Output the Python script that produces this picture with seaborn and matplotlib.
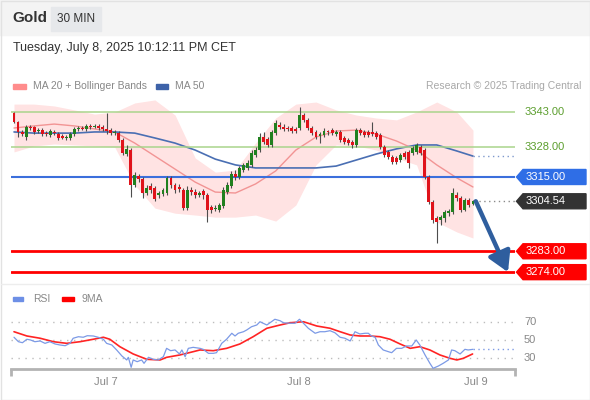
import numpy as np
import matplotlib
matplotlib.use('Agg')
import matplotlib.pyplot as plt
from matplotlib.patches import Rectangle, Polygon
from matplotlib.transforms import blended_transform_factory
import seaborn as sns

# ---- data (30 min candles, Gold) ----
opens = [3342.6, 3338.7, 3334.4, 3332.2, 3336.5, 3336.5, 3334.8, 3335.2, 3333.9, 3333.1,
         3334.4, 3333.5, 3332.7, 3331.8, 3331.8, 3333.5, 3335.7, 3336.1, 3335.7, 3337.0,
         3336.5, 3337.0, 3336.5, 3335.7, 3335.2, 3333.9, 3333.9, 3330.9, 3324.9, 3326.6,
         3311.5, 3315.4, 3314.1, 3308.1, 3311.1, 3310.2, 3307.2, 3307.7, 3308.1, 3314.6,
         3311.5, 3310.7, 3309.4, 3301.6, 3309.4, 3308.5, 3307.2, 3309.0, 3307.2, 3302.0,
         3301.2, 3300.7, 3302.4, 3308.5, 3311.1, 3316.3, 3315.0, 3318.0, 3318.9, 3320.2,
         3324.5, 3326.6, 3332.2, 3331.4, 3328.8, 3333.9, 3337.4, 3336.5, 3336.1, 3336.1,
         3335.7, 3336.1, 3341.7, 3339.6, 3336.1, 3334.4, 3332.7, 3333.1, 3334.4, 3335.2,
         3333.5, 3334.4, 3331.8, 3330.9, 3330.1, 3328.8, 3335.2, 3334.4, 3334.4, 3334.4,
         3333.9, 3333.1, 3327.9, 3325.8, 3323.6, 3323.2, 3322.3, 3325.3, 3325.8, 3325.3,
         3325.8, 3327.9, 3326.6, 3315.0, 3304.2, 3297.3, 3296.4, 3297.3, 3299.4, 3299.9,
         3307.2, 3305.9, 3300.7, 3305.1, 3303.3]
closes = [3338.7, 3334.4, 3333.5, 3336.5, 3336.1, 3334.4, 3335.2, 3333.5, 3333.5, 3334.8,
          3333.9, 3331.8, 3331.8, 3332.2, 3333.5, 3335.7, 3336.1, 3335.7, 3337.0, 3336.5,
          3337.0, 3336.1, 3335.7, 3334.8, 3333.9, 3334.4, 3330.9, 3325.3, 3327.1, 3311.5,
          3315.8, 3314.1, 3308.1, 3310.2, 3309.4, 3305.5, 3308.1, 3309.4, 3314.6, 3311.5,
          3309.4, 3309.8, 3301.6, 3309.4, 3308.5, 3307.2, 3308.1, 3307.2, 3300.7, 3300.7,
          3301.6, 3302.9, 3309.4, 3311.5, 3316.3, 3315.0, 3318.9, 3320.2, 3321.0, 3325.3,
          3326.6, 3332.2, 3330.1, 3328.8, 3334.4, 3338.3, 3336.5, 3335.7, 3335.7, 3334.8,
          3334.8, 3341.7, 3339.6, 3336.1, 3333.9, 3332.2, 3333.5, 3334.8, 3334.2, 3333.9,
          3334.4, 3330.9, 3330.1, 3329.6, 3328.8, 3335.2, 3333.9, 3333.1, 3333.1, 3333.5,
          3332.2, 3327.9, 3324.5, 3323.6, 3321.5, 3321.5, 3324.5, 3323.6, 3321.0, 3327.5,
          3328.8, 3325.3, 3315.0, 3304.2, 3296.4, 3295.6, 3297.7, 3299.9, 3300.3, 3308.1,
          3305.9, 3300.7, 3305.1, 3302.9, 3304.54]
highs = [3343.0, 3339.1, 3335.2, 3337.4, 3337.4, 3337.0, 3336.1, 3336.1, 3334.8, 3335.7,
         3335.2, 3334.4, 3333.5, 3333.1, 3334.4, 3336.5, 3337.0, 3337.0, 3337.8, 3337.8,
         3337.8, 3337.8, 3337.4, 3342.6, 3336.1, 3335.2, 3334.8, 3331.8, 3328.8, 3327.5,
         3317.1, 3316.3, 3315.0, 3311.5, 3312.4, 3311.1, 3309.0, 3310.2, 3315.4, 3315.4,
         3312.4, 3312.0, 3310.2, 3311.1, 3310.7, 3309.8, 3309.0, 3309.8, 3308.1, 3302.9,
         3302.9, 3303.8, 3310.7, 3312.8, 3317.6, 3318.0, 3319.7, 3321.0, 3322.3, 3326.6,
         3327.9, 3333.9, 3334.4, 3332.2, 3335.2, 3339.6, 3338.7, 3337.8, 3337.0, 3337.0,
         3336.5, 3345.2, 3342.6, 3340.4, 3337.0, 3335.2, 3334.4, 3336.1, 3335.2, 3336.1,
         3335.2, 3335.2, 3332.7, 3331.8, 3330.9, 3336.1, 3336.1, 3335.2, 3335.2, 3338.7,
         3334.8, 3333.9, 3328.8, 3326.6, 3324.5, 3324.0, 3325.3, 3326.2, 3326.6, 3328.4,
         3329.6, 3328.8, 3327.5, 3315.8, 3305.1, 3298.2, 3298.6, 3300.7, 3301.2, 3310.2,
         3308.5, 3306.8, 3305.9, 3305.9, 3305.1]
lows = [3338.3, 3332.2, 3332.7, 3330.9, 3335.2, 3333.5, 3333.9, 3332.7, 3332.7, 3332.2,
        3333.1, 3330.9, 3331.3, 3330.9, 3330.9, 3332.7, 3334.8, 3335.2, 3334.8, 3335.7,
        3336.1, 3335.2, 3334.8, 3333.5, 3333.1, 3333.1, 3330.1, 3324.5, 3324.0, 3306.4,
        3310.7, 3312.9, 3305.9, 3307.2, 3308.1, 3304.6, 3305.9, 3306.8, 3307.2, 3310.2,
        3308.1, 3308.5, 3300.7, 3300.7, 3307.2, 3305.9, 3306.4, 3305.5, 3295.6, 3299.4,
        3300.3, 3299.9, 3301.6, 3307.7, 3310.2, 3313.7, 3314.1, 3317.1, 3318.0, 3319.3,
        3323.6, 3325.8, 3329.2, 3327.9, 3327.9, 3333.1, 3335.7, 3334.8, 3334.8, 3333.9,
        3333.9, 3335.2, 3338.7, 3335.2, 3333.1, 3331.4, 3329.6, 3332.2, 3333.1, 3333.1,
        3332.7, 3330.1, 3329.2, 3328.8, 3327.5, 3327.9, 3333.1, 3332.2, 3332.2, 3332.7,
        3331.4, 3327.1, 3323.6, 3322.7, 3320.6, 3320.6, 3321.5, 3322.7, 3318.9, 3324.5,
        3324.9, 3324.5, 3314.1, 3303.3, 3295.2, 3286.5, 3294.3, 3295.6, 3298.2, 3299.0,
        3304.6, 3299.9, 3300.3, 3302.0, 3302.9]

# moving averages / Bollinger bands, read every 5 candles
band_idx = [0, 5, 10, 15, 20, 25, 30, 35, 40, 45, 50, 55, 60, 65, 70, 75, 80, 85, 90, 95,
            100, 105, 110, 114]
bb_upper = [3346.4, 3346.4, 3345.6, 3343.9, 3342.1, 3343.0, 3346.9, 3348.2, 3341.7, 3323.2,
            3317.1, 3318.0, 3329.6, 3340.4, 3346.4, 3347.3, 3343.9, 3341.7, 3340.4, 3339.6,
            3343.0, 3347.3, 3343.0, 3335.2]
bb_mid = [3336.1, 3337.0, 3337.8, 3337.0, 3335.7, 3334.4, 3329.6, 3324.0, 3318.4, 3312.8,
          3308.5, 3308.1, 3312.0, 3317.6, 3326.6, 3332.2, 3334.8, 3335.2, 3333.5, 3330.5,
          3326.6, 3320.2, 3314.6, 3310.7]
bb_lower = [3325.8, 3328.4, 3329.2, 3328.8, 3328.4, 3327.9, 3311.5, 3301.6, 3299.4, 3298.6,
            3297.7, 3297.7, 3298.6, 3296.0, 3302.9, 3320.2, 3328.8, 3328.4, 3326.6, 3323.2,
            3320.2, 3295.6, 3291.3, 3288.7]
ma50 = [3334.4, 3333.9, 3333.9, 3333.9, 3334.4, 3334.4, 3333.9, 3331.8, 3329.6, 3326.6,
        3322.7, 3320.2, 3318.9, 3318.9, 3318.9, 3318.9, 3319.7, 3322.3, 3324.9, 3327.1,
        3328.8, 3328.8, 3326.2, 3324.0]

# RSI and its 9 period MA
rsi_idx = [0, 1.1, 2.1, 3.2, 4.1, 5.2, 6.5, 7.7, 8.9, 10.2, 11.4, 12.7, 13.9, 14.7, 16.0,
           17.2, 18.2, 19.7, 20.9, 22.2, 23.0, 24.3, 25.5, 26.8, 28.0, 28.4, 29.1, 29.6,
           30.6, 31.7, 32.3, 33.4, 34.6, 35.8, 37.1, 37.9, 38.9, 40.0, 41.1, 41.7, 42.5,
           43.3, 44.5, 46.2, 47.0, 48.3, 49.5, 50.3, 51.6, 52.8, 54.1, 54.9, 55.7, 57.0,
           57.8, 59.0, 60.3, 61.1, 61.9, 62.8, 63.6, 64.8, 66.1, 66.9, 68.6, 69.8, 70.9,
           71.9, 73.1, 74.8, 76.0, 77.2, 78.5, 79.7, 81.0, 82.2, 83.5, 84.7, 85.9, 87.2,
           88.0, 88.8, 89.7, 90.5, 91.7, 93.0, 93.8, 95.0, 96.3, 97.5, 98.8, 99.9, 100.8,
           102.1, 103.3, 104.1, 105.4, 106.6, 107.9, 108.7, 109.5, 110.8, 112.0, 112.8, 114.0]
rsi = [52.8, 47.9, 46.8, 50.6, 49.8, 47.9, 48.7, 46.1, 47.9, 45.4, 44.3, 43.5, 46.1, 51.7,
       53.4, 52.8, 54.5, 54.2, 52.8, 50.6, 46.1, 44.3, 38.8, 32.2, 27.8, 30.7, 19.7, 27.8,
       25.9, 27.8, 24.1, 30.7, 28.5, 27.8, 31.4, 40.6, 38.0, 38.8, 34.4, 38.8, 31.4, 40.6,
       41.7, 40.6, 39.5, 35.1, 35.1, 35.8, 46.1, 50.6, 57.2, 54.2, 57.2, 58.9, 60.8, 64.4,
       66.3, 69.9, 68.2, 66.3, 68.8, 72.6, 71.0, 68.8, 68.2, 68.2, 72.6, 68.2, 62.7, 57.2,
       58.9, 58.9, 60.0, 57.8, 52.8, 51.7, 48.7, 58.9, 56.4, 57.2, 57.2, 54.2, 52.8, 44.3,
       38.8, 36.9, 35.8, 40.6, 40.6, 43.2, 43.2, 49.8, 44.3, 33.3, 24.1, 18.6, 21.1, 24.1,
       27.8, 38.8, 38.0, 34.4, 39.5, 38.8, 39.5]
ma9_idx = [0, 3.2, 6.5, 9.8, 13.1, 16.4, 19.7, 22.2, 23.8, 26.3, 29.6, 33.0, 36.3, 37.9,
           41.2, 44.5, 46.2, 49.5, 52.8, 56.1, 59.4, 62.8, 66.1, 68.6, 71.9, 75.2, 78.5,
           81.0, 83.5, 85.9, 88.4, 90.9, 93.4, 95.9, 98.4, 100.8, 103.3, 105.8, 108.3,
           110.0, 111.6, 113.9]
ma9 = [58.9, 54.2, 51.7, 47.9, 46.1, 47.9, 50.6, 52.8, 50.6, 42.4, 34.4, 28.5, 27.8, 30.7,
       33.3, 36.9, 38.8, 38.0, 40.6, 45.4, 53.4, 62.7, 66.3, 68.8, 69.9, 65.2, 62.7, 58.9,
       55.3, 54.2, 54.2, 53.4, 50.6, 45.4, 40.6, 42.4, 38.8, 33.3, 29.6, 27.8, 29.6, 34.4]

# key levels
resist_levels = [3343.0, 3328.0]
pivot_level = 3315.0
support_levels = [3283.0, 3274.0]
date_ticks = [22.85, 70.8, 114.75]
date_labels = ['Jul 7', 'Jul 8', 'Jul 9']
rsi_levels = [70, 50, 30]

# ---- figure ----
sns.set_theme(style='white')
plt.rcParams['font.family'] = ['Liberation Sans', 'DejaVu Sans']

W, H = 590, 400
fig = plt.figure(figsize=(W / 100, H / 100), dpi=100)
fig.patch.set_facecolor('white')


def px_axes(l, t, r, b):
    return fig.add_axes([l / W, 1 - b / H, (r - l) / W, (b - t) / H])


def ftext(x, y, s, **kw):
    kw.setdefault('va', 'center')
    return fig.text(x / W, 1 - y / H, s, **kw)


# header band and frame
fig.patches.append(Rectangle((0, 1 - 35 / H), 1, 35 / H, transform=fig.transFigure,
                             color='#f4f4f4', zorder=0))
fig.patches.append(Rectangle((51 / W, 1 - 31 / H), 50 / W, 24 / H, transform=fig.transFigure,
                             color='#e6e8eb', zorder=0))
fig.patches.append(Rectangle((0.5 / W, 0.5 / H), (W - 1) / W, (H - 1) / H, transform=fig.transFigure,
                             fill=False, edgecolor='#e2e2e2', lw=1, zorder=0))
fig.lines.append(plt.Line2D([1 / W, 589 / W], [1 - 283.5 / H] * 2, transform=fig.transFigure,
                            color='#ededed', lw=1))

ftext(12, 18, 'Gold', fontsize=11, fontweight='bold', color='#333333')
ftext(76, 19, '30 MIN', fontsize=8.5, ha='center', color='#333333')
ftext(13, 48, 'Tuesday, July 8, 2025 10:12:11 PM CET', fontsize=9, color='#333333')
ftext(581, 86, 'Research \u00a9 2025 Trading Central', fontsize=7.5, color='#a8a8a8', ha='right')

# legends
fig.patches.append(Rectangle((13 / W, 1 - 88.5 / H), 13 / W, 4.5 / H, transform=fig.transFigure,
                             color='#ff8c8c'))
ftext(33, 86, 'MA 20 + Bollinger Bands', fontsize=7.5, color='#888888')
fig.patches.append(Rectangle((156 / W, 1 - 88.5 / H), 12 / W, 4.5 / H, transform=fig.transFigure,
                             color='#3d62a8'))
ftext(175, 86, 'MA 50', fontsize=7.5, color='#888888')

fig.patches.append(Rectangle((13 / W, 1 - 301 / H), 10 / W, 4 / H, transform=fig.transFigure,
                             color='#6d8fe6'))
ftext(33, 299, 'RSI', fontsize=7.5, color='#888888')
fig.patches.append(Rectangle((62 / W, 1 - 301 / H), 12 / W, 4 / H, transform=fig.transFigure,
                             color='#ff0000'))
ftext(82, 299, '9MA', fontsize=7.5, color='#888888')

# ---- price panel ----
xmin, xmax = -0.745, 124.44
ax = px_axes(11, 60, 515, 284)
ax.set_xlim(xmin, xmax)
ax.set_ylim(3268.9, 3365.4)
ax.axis('off')

ax.fill_between(band_idx, bb_lower, bb_upper, color='#ffe3e3', lw=0, zorder=1)
sns.lineplot(x=band_idx, y=bb_mid, ax=ax, color='#f29494', lw=1.0, zorder=2)
sns.lineplot(x=band_idx, y=ma50, ax=ax, color='#4a6fb3', lw=1.2, zorder=2)

for lvl in resist_levels:
    ax.axhline(lvl, color='#a9d48c', lw=1.1, zorder=2)
ax.axhline(pivot_level, color='#3b6fdc', lw=1.5, zorder=2)
for lvl in support_levels:
    ax.axhline(lvl, color='#ff0000', lw=2, zorder=2)

o = np.array(opens)
c = np.array(closes)
idx = np.arange(len(c))
ax.vlines(idx, lows, highs, color='#4d4d4d', lw=0.8, zorder=3)
body_lo = np.minimum(o, c)
body_h = np.maximum(np.abs(c - o), 0.45)
ax.bar(idx, body_h, bottom=body_lo, width=0.72, lw=0, zorder=4,
       color=np.where(c >= o, '#21801f', '#e0121a'))

# projections past the last candle
last = idx[-1]
ax.plot([last + 0.3, xmax], [closes[-1]] * 2, ls=(0, (1, 2.5)), color='#8a8a8a', lw=1, zorder=2)
ax.plot([band_idx[-1], xmax], [ma50[-1]] * 2, ls=(0, (1, 2.5)), color='#7d98cc', lw=1, zorder=2)
ax.annotate('', xy=(last + 8.7, support_levels[1]), xytext=(last + 0.7, closes[-1]),
            arrowprops=dict(arrowstyle='-|>,head_length=0.6,head_width=0.35', mutation_scale=20,
                            color='#2f5e9e', lw=3.2, shrinkA=0, shrinkB=0),
            annotation_clip=False, zorder=6)

# right hand labels
tr = blended_transform_factory(fig.transFigure, ax.transData)
px_per_unit = 224 / (3365.4 - 3268.9)
hh = 7.5 / px_per_unit


def tag(lvl, text, color):
    pts = [(516.5 / W, lvl), (523 / W, lvl + hh), (586 / W, lvl + hh),
           (586 / W, lvl - hh), (523 / W, lvl - hh)]
    ax.add_patch(Polygon(pts, closed=True, transform=tr, color=color, clip_on=False, zorder=5))
    ax.text(526 / W, lvl, text, transform=tr, color='white', fontsize=8, va='center',
            ha='left', clip_on=False, zorder=6)


for lvl in resist_levels:
    ax.text(525 / W, lvl, f'{lvl:.2f}', transform=tr, color='#5c9e2e', fontsize=8,
            va='center', ha='left', clip_on=False)
tag(pivot_level, f'{pivot_level:.2f}', '#2f6ee6')
tag(closes[-1], f'{closes[-1]:.2f}', '#333333')
for lvl in support_levels:
    tag(lvl, f'{lvl:.2f}', '#ff0000')

# ---- RSI panel ----
ax2 = px_axes(11, 288, 515, 369)
ax2.set_xlim(xmin, xmax)
ax2.set_ylim(17.84, 107.05)
for s in ['top', 'left', 'right']:
    ax2.spines[s].set_visible(False)
ax2.spines['bottom'].set_color('#b3b3b3')
ax2.spines['bottom'].set_linewidth(2)
ax2.set_yticks([])

tr2 = blended_transform_factory(fig.transFigure, ax2.transData)
for v in rsi_levels:
    ax2.axhline(v, color='#bdbdbd', ls=(0, (1, 4)), lw=1, zorder=1)
    ax2.text(524 / W, v, str(v), transform=tr2, fontsize=8, color='#888888', va='center',
             clip_on=False)

sns.lineplot(x=rsi_idx, y=rsi, ax=ax2, color='#7c9ae6', lw=0.9, zorder=3)
sns.lineplot(x=ma9_idx, y=ma9, ax=ax2, color='#ff2424', lw=1.2, zorder=2)
ax2.plot([rsi_idx[-1], xmax], [rsi[-1]] * 2, ls=(0, (1, 2.5)), color='#7c9ae6', lw=1, zorder=2)

ax2.set_xticks([xmin, xmax])
ax2.set_xticklabels([])
ax2.set_xticks(date_ticks, minor=True)
ax2.set_xticklabels(date_labels, minor=True)
ax2.tick_params(axis='x', which='major', bottom=True, length=5, width=2, color='#b3b3b3')
ax2.tick_params(axis='x', which='minor', bottom=True, length=0, pad=6, labelsize=8,
                labelcolor='#888888')
ax2.set_xlabel('')
ax2.set_ylabel('')
ax.set_xlabel('')
ax.set_ylabel('')

fig.savefig('out.png', dpi=100)
